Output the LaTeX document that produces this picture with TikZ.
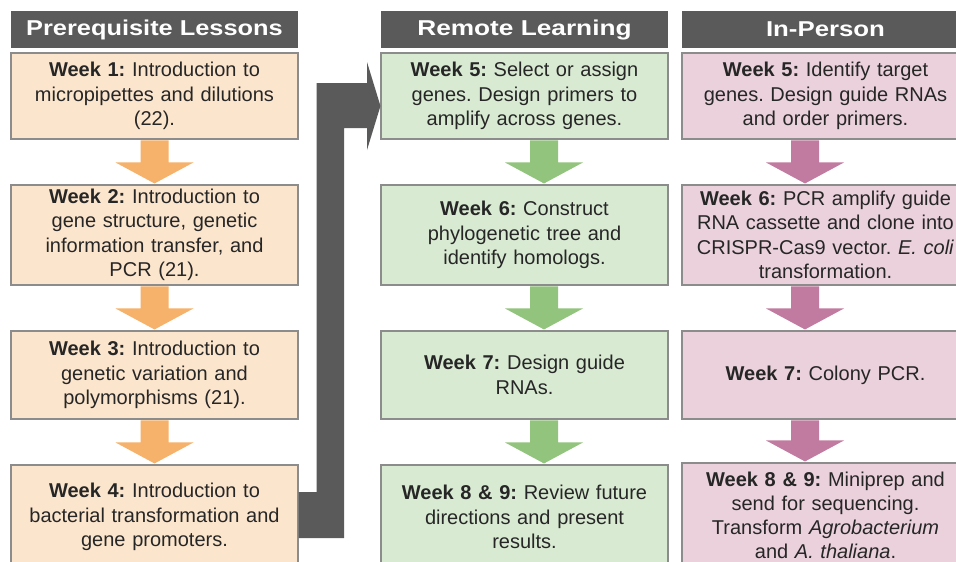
\documentclass[tikz,border=0pt]{standalone}
\usepackage{fontspec}
\setmainfont{Liberation Sans}
\usetikzlibrary{calc}
\definecolor{hdr}{HTML}{5A5A5A}
\definecolor{bord}{HTML}{8C8C8C}
\definecolor{orbox}{HTML}{FCE5CD}
\definecolor{orarr}{HTML}{F6B26B}
\definecolor{grbox}{HTML}{D9EAD3}
\definecolor{grarr}{HTML}{93C47D}
\definecolor{pkbox}{HTML}{EAD1DC}
\definecolor{pkarr}{HTML}{C27BA0}
\definecolor{txt}{HTML}{262626}
\frenchspacing
\newcommand{\blockarr}[4]{%
  \fill[#4] ($(#1.south)+(#3-14,0.8)$) -- ($(#1.south)+(#3+14,0.8)$)
    -- ($(#2.north)+(#3+14,-22)$) -- ($(#2.north)+(#3+39,-22)$)
    -- ($(#2.north)+(#3,-1)$) -- ($(#2.north)+(#3-39,-22)$)
    -- ($(#2.north)+(#3-14,-22)$) -- cycle;}
\begin{document}
\begin{tikzpicture}[x=1pt,y=-1pt,
  box/.style={draw=bord, line width=1.1pt, minimum width=287pt, text width=280pt,
    align=center, inner sep=0pt, text=txt, font=\fontsize{20}{24.5}\selectfont\frenchspacing},
  hdrbox/.style={fill=hdr, minimum width=287pt, minimum height=37pt, inner sep=0pt,
    text=white, font=\fontsize{21.5}{24}\selectfont\bfseries},
  r1/.style={minimum height=86pt},
  r2/.style={minimum height=100pt},
  r3/.style={minimum height=88pt},
  r4/.style={minimum height=104pt}]
\useasboundingbox (0,0) rectangle (956,562);
\clip (0,0) rectangle (956,562);
\fill[white] (0,0) rectangle (956,562);
% headers
\node[hdrbox] (hl) at (154.5,29.5) {\scalebox{1.18}[1]{Prerequisite Lessons}};
\node[hdrbox] (hm) at (524.5,29.5) {\scalebox{1.22}[1]{Remote Learning}};
\node[hdrbox] (hr) at (825.5,29.5) {\scalebox{1.2}[1]{In-Person}};
% left column
\node[box, r1, fill=orbox] (l1) at (154.5,96) {\textbf{Week 1:} Introduction to\\micropipettes and dilutions\\(22).};
\node[box, r2, fill=orbox] (l2) at (154.5,235) {\textbf{Week 2:} Introduction to\\gene structure, genetic\\information transfer, and\\PCR (21).};
\node[box, r3, fill=orbox] (l3) at (154.5,375) {\textbf{Week 3:} Introduction to\\genetic variation and\\polymorphisms (21).};
\node[box, r4, fill=orbox] (l4) at (154.5,517) {\textbf{Week 4:} Introduction to\\bacterial transformation and\\gene promoters.};
% middle column
\node[box, r1, fill=grbox] (m1) at (524.5,96) {\textbf{Week 5:} Select or assign\\genes. Design primers to\\amplify across genes.};
\node[box, r2, fill=grbox] (m2) at (524.5,235) {\textbf{Week 6:} Construct\\phylogenetic tree and\\identify homologs.};
\node[box, r3, fill=grbox] (m3) at (524.5,375) {\textbf{Week 7:} Design guide\\RNAs.};
\node[box, r4, fill=grbox] (m4) at (524.5,517) {\textbf{Week 8 \& 9:} Review future\\directions and present\\results.};
% right column
\node[box, r1, fill=pkbox] (p1) at (825.5,96) {\textbf{Week 5:} Identify target\\genes. Design guide RNAs\\and order primers.};
\node[box, r2, fill=pkbox] (p2) at (825.5,235) {\textbf{Week 6:} PCR amplify guide\\RNA cassette and clone into\\CRISPR-Cas9 vector. \textit{E. coli}\\transformation.};
\node[box, r3, fill=pkbox] (p3) at (825.5,375) {\textbf{Week 7:} Colony PCR.};
\node[box, r4, fill=pkbox, font=\fontsize{20}{24}\selectfont\frenchspacing] (p4) at (825.5,515) {\textbf{Week 8 \& 9:} Miniprep and\\send for sequencing.\\Transform \textit{Agrobacterium}\\and \textit{A. thaliana}.};
% block arrows
\blockarr{l1}{l2}{0}{orarr}
\blockarr{l2}{l3}{0}{orarr}
\blockarr{l3}{l4}{0}{orarr}
\blockarr{m1}{m2}{19.5}{grarr}
\blockarr{m2}{m3}{19.5}{grarr}
\blockarr{m3}{m4}{19.5}{grarr}
\blockarr{p1}{p2}{-20.5}{pkarr}
\blockarr{p2}{p3}{-20.5}{pkarr}
\blockarr{p3}{p4}{-20.5}{pkarr}
% bent grey arrow
\fill[hdr] (l4.east |- 0,492) -- (316.5,492) -- (316.5,83) -- (367,83) -- (367,62)
  -- (m1.west |- 0,106) -- (367,150) -- (367,128) -- (344,128) -- (344,538)
  -- (l4.east |- 0,538) -- cycle;
\end{tikzpicture}
\end{document}
